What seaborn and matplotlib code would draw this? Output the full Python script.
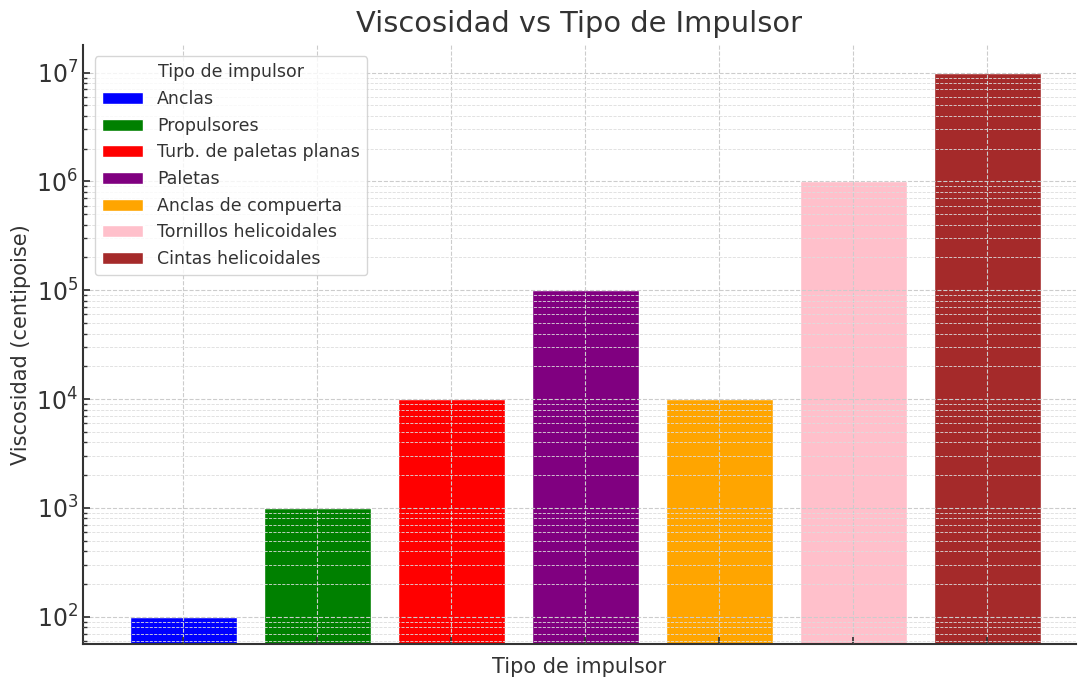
import matplotlib
matplotlib.use("Agg")
import matplotlib.pyplot as plt
import seaborn as sns
import pandas as pd
from matplotlib.patches import Patch

categorias = ["Anclas", "Propulsores", "Turb. de paletas planas", "Paletas",
              "Anclas de compuerta", "Tornillos helicoidales", "Cintas helicoidales"]
viscosidad = [1e2, 1e3, 1e4, 1e5, 1e4, 1e6, 1e7]
colores = ["blue", "green", "red", "purple", "orange", "pink", "brown"]

df = pd.DataFrame({"Tipo": categorias, "Viscosidad": viscosidad})

sns.set_theme(style="whitegrid")
plt.rcParams['font.family'] = ['DejaVu Sans']
txt = "#333333"

fig, ax = plt.subplots(figsize=(10.78, 6.78), dpi=100)
fig.subplots_adjust(left=0.077, right=0.998, top=0.934, bottom=0.05)

sns.barplot(data=df, x="Tipo", y="Viscosidad", hue="Tipo", palette=colores,
            dodge=False, legend=False, width=0.8, ax=ax, saturation=1)
ax.set_yscale("log")

ax.set_ylim(56, 1.8e7)
ax.set_xlim(-0.75, 6.66)
ax.set_xticks(range(len(categorias)))
ax.set_xticklabels([])
ax.set_axisbelow(False)
ax.grid(True, which="major", linestyle="--", color="#cccccc", linewidth=0.8)
ax.grid(True, which="minor", axis="y", linestyle="--", color="#dddddd", linewidth=0.6)
ax.minorticks_on()
ax.tick_params(axis="x", which="minor", bottom=False)
ax.tick_params(axis="both", which="major", direction="in", length=5, colors=txt,
               labelsize=17, left=True, bottom=True)
ax.tick_params(axis="y", which="minor", direction="in", length=3, left=True, colors=txt)

for s in ["top", "right"]:
    ax.spines[s].set_visible(False)
for s in ["left", "bottom"]:
    ax.spines[s].set_color(txt)
    ax.spines[s].set_linewidth(1.5)

ax.set_title("Viscosidad vs Tipo de Impulsor", fontsize=20.8, color=txt, pad=9)
ax.set_xlabel("Tipo de impulsor", fontsize=15, color=txt, labelpad=2)
ax.set_ylabel("Viscosidad (centipoise)", fontsize=15, color=txt)

handles = [Patch(facecolor=c, label=l) for c, l in zip(colores, categorias)]
leg = ax.legend(handles=handles, title="Tipo de impulsor", loc="upper left",
                fontsize=12.5, title_fontsize=12.5, frameon=True,
                bbox_to_anchor=(0.003, 0.995), labelspacing=0.5, handlelength=2.4)
for t in leg.get_texts():
    t.set_color(txt)
leg.get_title().set_color(txt)

fig.savefig("out.png", dpi=100)
